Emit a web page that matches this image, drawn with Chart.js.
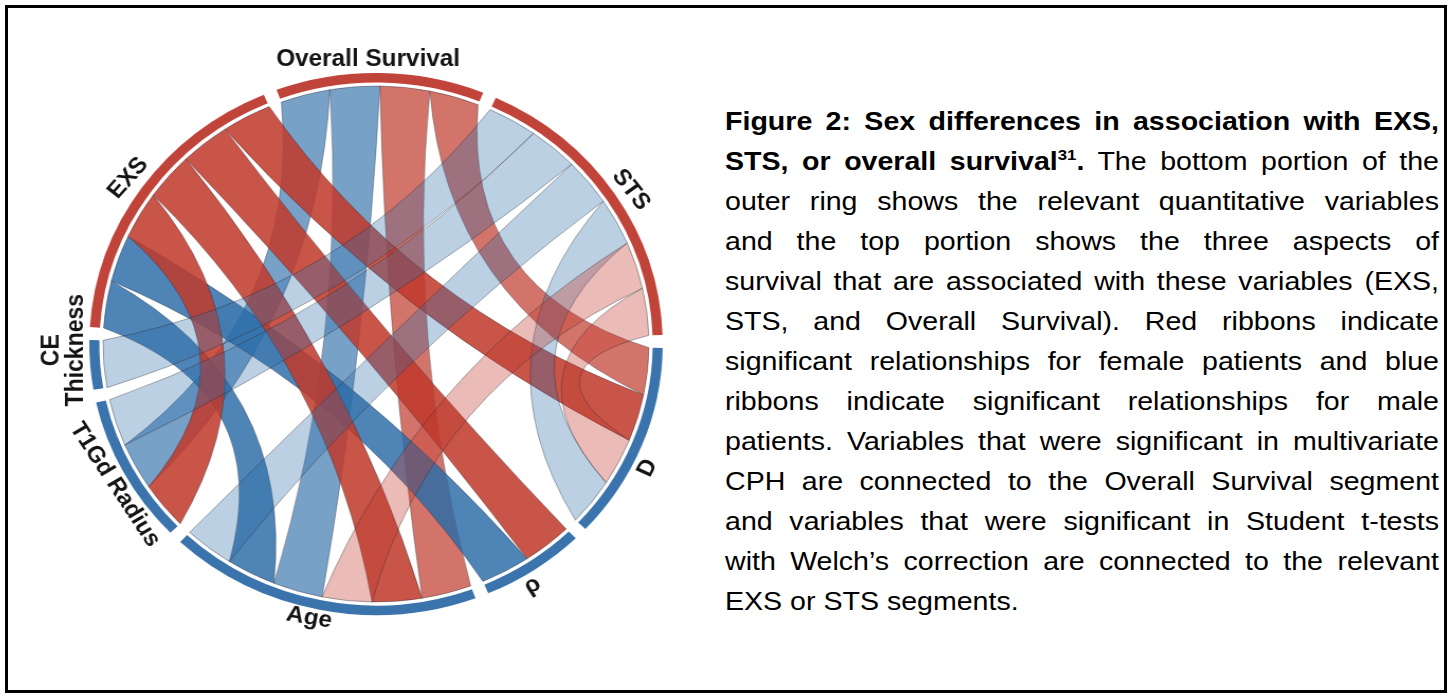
<!DOCTYPE html>
<html>
<head>
<meta charset="utf-8">
<script src="https://cdn.jsdelivr.net/npm/chart.js@4.4.1/dist/chart.umd.min.js"></script>
<style>
html,body{margin:0;padding:0;background:#fff;width:1452px;height:698px;overflow:hidden;}
#frame{position:absolute;left:5px;top:5px;width:1436px;height:682px;border:3px solid #000;}
#chartWrap{position:absolute;left:56px;top:24px;width:640px;height:640px;transform:scaleX(1.058);transform-origin:320px 320px;}
#caption{position:absolute;left:725px;top:101px;width:637.5px;transform:scaleX(1.12);transform-origin:0 0;
  font-family:"Liberation Sans",Arial,Helvetica,sans-serif;font-size:25.5px;line-height:40px;color:#000;}
#caption div{text-align:justify;text-align-last:justify;height:40px;}
#caption div.last{text-align-last:left;}
#caption sup{font-size:15px;line-height:0;vertical-align:10px;}
</style>
</head>
<body>
<div id="frame"></div>
<div id="chartWrap"><canvas id="chord" width="640" height="640"></canvas></div>
<div id="caption">
<div><b>Figure 2: Sex differences in association with EXS,</b></div>
<div><b>STS, or overall survival<sup>31</sup>.</b> The bottom portion of the</div>
<div>outer ring shows the relevant quantitative variables</div>
<div>and the top portion shows the three aspects of</div>
<div>survival that are associated with these variables (EXS,</div>
<div>STS, and Overall Survival). Red ribbons indicate</div>
<div>significant relationships for female patients and blue</div>
<div>ribbons indicate significant relationships for male</div>
<div>patients. Variables that were significant in multivariate</div>
<div>CPH are connected to the Overall Survival segment</div>
<div>and variables that were significant in Student t-tests</div>
<div>with Welch’s correction are connected to the relevant</div>
<div class="last">EXS or STS segments.</div>
</div>
<script>
// ---- data ----
const segmentNames = ['Overall Survival', 'STS', 'D', 'ρ', 'Age', 'T1Gd Radius', 'CE Thickness', 'EXS'];
const segmentGroup = ['outcome', 'outcome', 'variable', 'variable', 'variable', 'variable', 'variable', 'outcome'];
const outcomeRank = ['Overall Survival', 'EXS', 'STS'];

const linkOutcome  = ['Overall Survival', 'Overall Survival', 'Overall Survival', 'Overall Survival',
                      'EXS', 'EXS', 'EXS', 'EXS', 'EXS', 'EXS',
                      'STS', 'STS', 'STS', 'STS', 'STS', 'STS'];
const linkVariable = ['T1Gd Radius', 'Age', 'Age', 'D',
                      'Age', 'ρ', 'T1Gd Radius', 'Age', 'ρ', 'D',
                      'CE Thickness', 'T1Gd Radius', 'Age', 'D', 'Age', 'D'];
const linkSex      = ['male', 'male', 'female', 'female',
                      'male', 'male', 'female', 'female', 'female', 'female',
                      'male', 'male', 'male', 'male', 'female', 'female'];
const linkValue    = [1, 1, 1, 1, 1, 1, 1, 1, 1, 1, 1, 1, 1, 1, 1, 1];

// ---- styles / layout ----
const GAP_UNITS = 0.26;
const RING_COLORS = { outcome: '#c1443a', variable: '#3b74ad' };
const RIBBON_COLORS = {
  female: { 'Overall Survival': 'rgba(192,57,43,0.70)', 'EXS': 'rgba(192,57,43,0.86)', 'STS': 'rgba(192,57,43,0.34)' },
  male:   { 'Overall Survival': 'rgba(44,108,168,0.64)', 'EXS': 'rgba(44,108,168,0.84)', 'STS': 'rgba(44,108,168,0.32)' }
};
const labelLines = [['Overall Survival'], ['EXS'], ['STS'], ['CE', 'Thickness'], ['T1Gd Radius'], ['Age'], ['ρ'], ['D']];
const labelAngle = [-1.5, 305.3, 57.4, 268.8, 240.3, 193, 148.5, 115.8];
const labelRadius = [284, 287, 286, 294.5, 284, 281, 283, 285];
const labelRotate = [0, -50, 53, -90, 58, 10, -31.5, -64];

// ring values built from link counts
const segmentTotals = segmentNames.map((n, i) =>
  linkValue.reduce((s, v, k) => s + ((segmentGroup[i] === 'outcome' ? linkOutcome[k] : linkVariable[k]) === n ? v : 0), 0));
const ringValues = [], ringColors = [], ringLabels = [];
segmentNames.forEach((n, i) => {
  ringValues.push(segmentTotals[i]); ringColors.push(RING_COLORS[segmentGroup[i]]); ringLabels.push(n);
  ringValues.push(GAP_UNITS); ringColors.push('rgba(0,0,0,0)'); ringLabels.push('');
});

const ribbonPlugin = {
  id: 'ribbons',
  afterDatasetsDraw(chart) {
    const arcs = chart.getDatasetMeta(0).data;
    const ctx = chart.ctx;
    const cx = arcs[0].x, cy = arcs[0].y;
    const r = arcs[0].innerRadius - 3.5;
    const outEnd = {}, varEnd = {};
    segmentNames.forEach((name, si) => {
      const arc = arcs[2 * si];
      const isOut = segmentGroup[si] === 'outcome';
      const members = linkValue.map((v, k) => k).filter(k => (isOut ? linkOutcome[k] : linkVariable[k]) === name);
      members.sort((a, b) => {
        if (isOut) {
          const sa = linkSex[a] === 'male' ? 0 : 1, sb = linkSex[b] === 'male' ? 0 : 1;
          if (sa !== sb) return sa - sb;
          return segmentNames.indexOf(linkVariable[b]) - segmentNames.indexOf(linkVariable[a]);
        } else {
          const sa = linkSex[a] === 'female' ? 0 : 1, sb = linkSex[b] === 'female' ? 0 : 1;
          if (sa !== sb) return sa - sb;
          return outcomeRank.indexOf(linkOutcome[a]) - outcomeRank.indexOf(linkOutcome[b]);
        }
      });
      const total = members.reduce((s, k) => s + linkValue[k], 0);
      const span = arc.endAngle - arc.startAngle;
      let a = arc.startAngle;
      members.forEach(k => {
        const w = span * linkValue[k] / total;
        (isOut ? outEnd : varEnd)[k] = [a, a + w];
        a += w;
      });
    });
    const K = 0.62;
    function ctrl(a, b) {
      const mx = Math.cos(a) + Math.cos(b), my = Math.sin(a) + Math.sin(b);
      const len = Math.hypot(mx, my);
      if (len < 1e-6) return [cx, cy];
      const sep = 2 * Math.acos(Math.min(1, len / 2));
      const f = K * (1 - sep / Math.PI);
      return [cx + r * f * mx / len, cy + r * f * my / len];
    }
    const P = a => [cx + r * Math.cos(a), cy + r * Math.sin(a)];
    ctx.save();
    linkValue.forEach((v, k) => {
      const [s0, s1] = outEnd[k], [t0, t1] = varEnd[k];
      ctx.beginPath();
      const p0 = P(s0);
      ctx.moveTo(p0[0], p0[1]);
      ctx.arc(cx, cy, r, s0, s1, false);
      let c = ctrl(s1, t0), q = P(t0);
      ctx.quadraticCurveTo(c[0], c[1], q[0], q[1]);
      ctx.arc(cx, cy, r, t0, t1, false);
      c = ctrl(t1, s0);
      ctx.quadraticCurveTo(c[0], c[1], p0[0], p0[1]);
      ctx.closePath();
      ctx.fillStyle = RIBBON_COLORS[linkSex[k]][linkOutcome[k]];
      ctx.fill();
      ctx.lineWidth = 0.7;
      ctx.strokeStyle = 'rgba(40,40,50,0.55)';
      ctx.stroke();
    });
    ctx.restore();
  }
};

const labelPlugin = {
  id: 'segLabels',
  afterDraw(chart) {
    const arc = chart.getDatasetMeta(0).data[0];
    const ctx = chart.ctx;
    ctx.save();
    ctx.fillStyle = '#141414';
    ctx.textAlign = 'center';
    ctx.textBaseline = 'middle';
    ctx.font = 'bold 23px "Liberation Sans", Arial, Helvetica, sans-serif';
    labelLines.forEach((lines, i) => {
      const th = labelAngle[i] * Math.PI / 180;
      const x = arc.x + labelRadius[i] * Math.sin(th);
      const y = arc.y - labelRadius[i] * Math.cos(th);
      ctx.save();
      ctx.translate(x, y);
      ctx.rotate(labelRotate[i] * Math.PI / 180);
      const lh = 23;
      lines.forEach((ln, j) => ctx.fillText(ln, 0, (j - (lines.length - 1) / 2) * lh));
      ctx.restore();
    });
    ctx.restore();
  }
};

new Chart(document.getElementById('chord'), {
  type: 'doughnut',
  data: { labels: ringLabels, datasets: [{ data: ringValues, backgroundColor: ringColors, borderWidth: 0, hoverOffset: 0 }] },
  options: {
    responsive: false,
    animation: false,
    rotation: -20.3,
    cutout: 261.5,
    layout: { padding: 49 },
    events: [],
    plugins: { legend: { display: false }, tooltip: { enabled: false } }
  },
  plugins: [ribbonPlugin, labelPlugin]
});
</script>
</body>
</html>
